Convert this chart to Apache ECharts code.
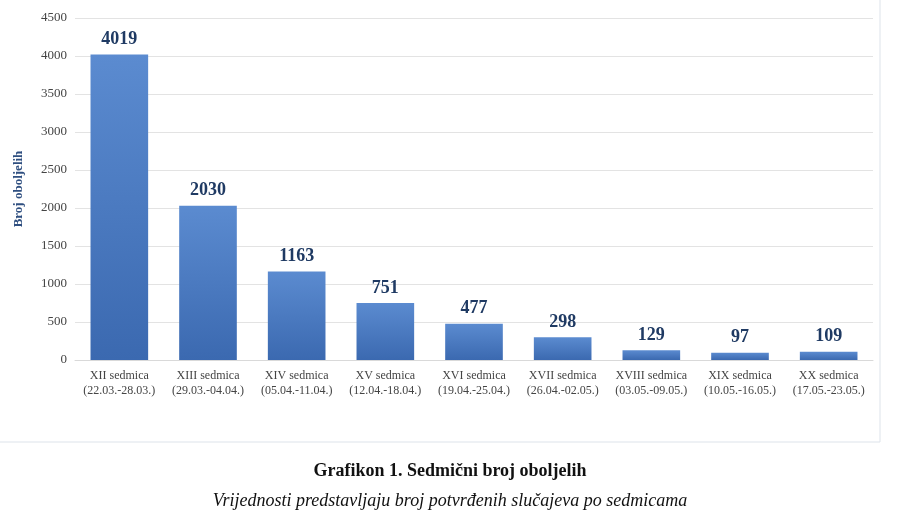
<!DOCTYPE html>
<html><head><meta charset="utf-8">
<script src="https://cdn.jsdelivr.net/npm/echarts@6/dist/echarts.min.js"></script>
<style>body{margin:0;background:#fff}#main{width:900px;height:522px}</style>
</head><body><div id="main"></div>
<script>
const weeks = ["XII sedmica", "XIII sedmica", "XIV sedmica", "XV sedmica", "XVI sedmica", "XVII sedmica", "XVIII sedmica", "XIX sedmica", "XX sedmica"];
const dates = ["(22.03.-28.03.)", "(29.03.-04.04.)", "(05.04.-11.04.)", "(12.04.-18.04.)", "(19.04.-25.04.)", "(26.04.-02.05.)", "(03.05.-09.05.)", "(10.05.-16.05.)", "(17.05.-23.05.)"];
const cases = [4019, 2030, 1163, 751, 477, 298, 129, 97, 109];

const font = "Liberation Serif";
var myChart = echarts.init(document.getElementById("main"));
myChart.setOption({
  textStyle: { fontFamily: font },
  graphic: [
    { type: "line", shape: { x1: 880, y1: 0, x2: 880, y2: 442 }, style: { stroke: "#dde3ea", lineWidth: 1 } },
    { type: "line", shape: { x1: 0, y1: 442, x2: 880, y2: 442 }, style: { stroke: "#dde3ea", lineWidth: 1 } },
    { type: "text", left: "center", top: 462, style: { text: "Grafikon 1. Sedmični broj oboljelih", font: "bold 18px " + font, fill: "#111" } },
    { type: "text", left: "center", top: 492, style: { text: "Vrijednosti predstavljaju broj potvrđenih slučajeva po sedmicama", font: "italic 18px " + font, fill: "#111" } }
  ],
  grid: { left: 75, right: 27, top: 18, bottom: 162 },
  xAxis: {
    type: "category",
    data: weeks.map((w, i) => w + "\n" + dates[i]),
    axisTick: { show: false },
    axisLine: { lineStyle: { color: "#d9d9d9" } },
    axisLabel: { color: "#444", fontSize: 12, lineHeight: 15, margin: 8, interval: 0 }
  },
  yAxis: {
    type: "value", min: 0, max: 4500, interval: 500,
    name: "Broj oboljelih", nameLocation: "middle", nameGap: 50, nameRotate: 90,
    nameTextStyle: { color: "#2f4f80", fontWeight: "bold", fontSize: 13 },
    axisLabel: { color: "#444", fontSize: 13, formatter: v => String(v) },
    splitLine: { lineStyle: { color: "#e3e3e3" } }
  },
  series: [{
    type: "bar", data: cases, barWidth: "65%",
    itemStyle: { color: new echarts.graphic.LinearGradient(0, 0, 0, 1, [
      { offset: 0, color: "#5b8bd0" }, { offset: 1, color: "#3b69b0" }]) },
    label: { show: true, position: "top", distance: 6, color: "#1f3a63", fontWeight: "bold", fontSize: 18 }
  }]
});
</script></body></html>
